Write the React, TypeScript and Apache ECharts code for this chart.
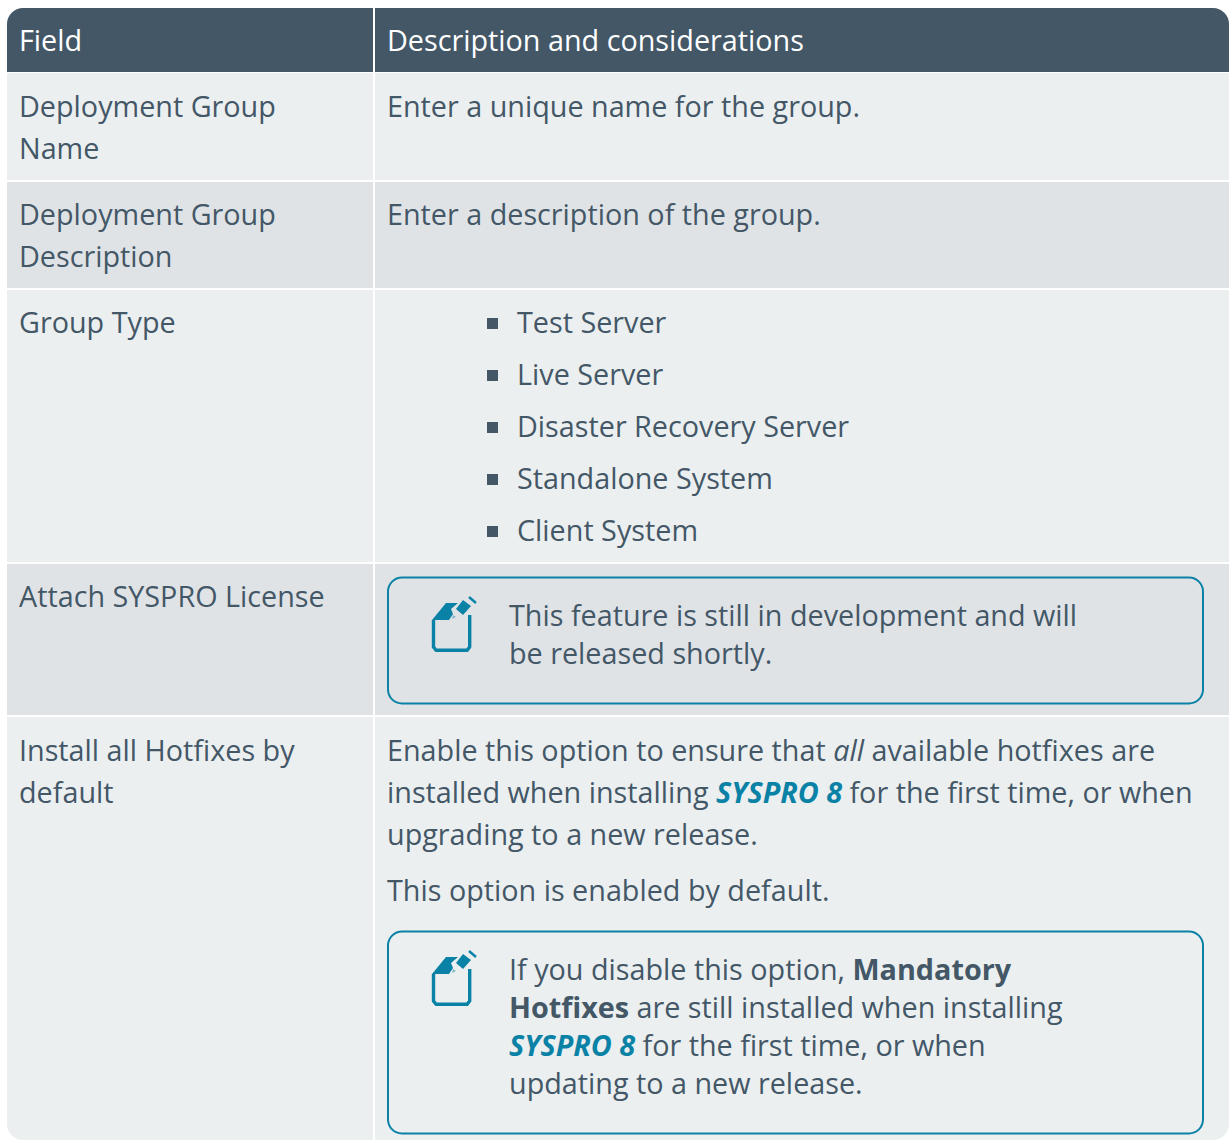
import React, { useEffect, useRef } from "react";
import * as echarts from "echarts";

const SLATE = "#435767";
const TEAL = "#0a82a6";
const headers = ["Field", "Description and considerations"];
const fieldLines = [
  ["Deployment Group", "Name"],
  ["Deployment Group", "Description"],
  ["Group Type"],
  ["Attach SYSPRO License"],
  ["Install all Hotfixes by", "default"],
];
const fieldY = [105, 213, 321, 595, 749];
const bulletItems = ["Test Server", "Live Server", "Disaster Recovery Server", "Standalone System", "Client System"];
const bulletY = [321, 373, 425, 477, 529];
const plainDesc: [string, number][] = [
  ["Enter a unique name for the group.", 105],
  ["Enter a description of the group.", 213],
  ["{n|Enable this option to ensure that }{i|all}{n| available hotfixes are}", 749],
  ["{n|installed when installing }{s|SYSPRO 8}{n| for the first time, or when}", 791],
  ["upgrading to a new release.", 833],
  ["This option is enabled by default.", 889],
];
const note1: [string, number][] = [
  ["This feature is still in development and will", 614],
  ["be released shortly.", 652],
];
const note2: [string, number][] = [
  ["{n|If you disable this option, }{b|Mandatory}", 968],
  ["{b|Hotfixes}{n| are still installed when installing}", 1006],
  ["{s|SYSPRO 8}{n| for the first time, or when}", 1044],
  ["updating to a new release.", 1082],
];
const rows = [
  { y: 73, h: 107, c: "#ebeff0" },
  { y: 182, h: 106, c: "#e0e3e6" },
  { y: 290, h: 272, c: "#ebeff0" },
  { y: 564, h: 151, c: "#e0e3e6" },
  { y: 717, h: 423, c: "#ebeff0" },
];

const FONT = '"Open Sans"';
const SIZE = 28.75;
const rich = (size: number) => ({
  n: { fontFamily: FONT, fontSize: size, fill: SLATE },
  i: { fontFamily: FONT, fontSize: size, fontStyle: "italic", fill: SLATE },
  b: { fontFamily: FONT, fontSize: size, fontWeight: 700, fill: SLATE },
  s: { fontFamily: FONT, fontSize: size, fontWeight: 700, fontStyle: "italic", fill: TEAL },
});

function txt(s: string, x: number, y: number, size: number, color = SLATE) {
  return {
    type: "text",
    x,
    y,
    style: {
      text: s,
      fontFamily: FONT,
      fontSize: size,
      fill: color,
      textAlign: "left",
      textVerticalAlign: "middle",
      rich: rich(size),
    },
  };
}

function icon(dy: number) {
  return {
    type: "group",
    x: 0,
    y: dy,
    children: [
      { type: "polyline", shape: { points: [[433.5, 620], [433.5, 647], [436, 650.3], [467, 650.3], [469.7, 647], [469.7, 615]] }, style: { fill: "none", stroke: TEAL, lineWidth: 3.4, lineJoin: "round" } },
      { type: "polygon", shape: { points: [[432, 620], [446, 603], [458, 603], [451, 609], [453, 614], [449, 620]] }, style: { fill: TEAL } },
      { type: "polygon", shape: { points: [[463, 600], [471, 606], [463, 615], [456, 609]] }, style: { fill: TEAL } },
      { type: "line", shape: { x1: 469, y1: 597, x2: 476, y2: 603 }, style: { stroke: TEAL, lineWidth: 2.4 } },
      { type: "polygon", shape: { points: [[453, 615], [456, 617], [452, 619]] }, style: { fill: "#7fb6c9" } },
    ],
  };
}

export default function App() {
  const ref = useRef<HTMLDivElement>(null);
  useEffect(() => {
    if (!ref.current) return;
    const chart = echarts.init(ref.current, undefined, { renderer: "svg" });
    const els: any[] = [];
    els.push({ type: "rect", shape: { x: 7, y: 8, width: 366, height: 64, r: [16, 0, 0, 0] }, style: { fill: SLATE } });
    els.push({ type: "rect", shape: { x: 375, y: 8, width: 854, height: 64, r: [0, 16, 0, 0] }, style: { fill: SLATE } });
    rows.forEach((r, i) => {
      const last = i === rows.length - 1;
      els.push({ type: "rect", shape: { x: 7, y: r.y, width: 366, height: r.h, r: last ? [0, 0, 0, 16] : 0 }, style: { fill: r.c } });
      els.push({ type: "rect", shape: { x: 375, y: r.y, width: 854, height: r.h, r: last ? [0, 0, 16, 0] : 0 }, style: { fill: r.c } });
    });
    els.push(txt(headers[0], 19, 39, SIZE, "#ffffff"));
    els.push(txt(headers[1], 387, 39, SIZE, "#ffffff"));
    fieldLines.forEach((lines, i) => lines.forEach((l, j) => els.push(txt(l, 19, fieldY[i] + j * 42, SIZE))));
    plainDesc.forEach(([s, y]) => els.push(txt(s, 387, y, SIZE)));
    bulletItems.forEach((s, i) => {
      els.push({ type: "rect", shape: { x: 487, y: bulletY[i] - 3, width: 11, height: 11 }, style: { fill: SLATE } });
      els.push(txt(s, 517, bulletY[i], SIZE));
    });
    els.push({ type: "rect", shape: { x: 388, y: 577.5, width: 815, height: 126, r: 14 }, style: { fill: "none", stroke: TEAL, lineWidth: 2 } });
    els.push({ type: "rect", shape: { x: 388, y: 931.5, width: 815, height: 202, r: 14 }, style: { fill: "none", stroke: TEAL, lineWidth: 2 } });
    els.push(icon(0));
    els.push(icon(354));
    note1.forEach(([s, y]) => els.push(txt(s, 509, y, SIZE)));
    note2.forEach(([s, y]) => els.push(txt(s, 509, y, SIZE)));
    chart.setOption({ animation: false, graphic: { elements: els } });
    return () => chart.dispose();
  }, []);
  return <div ref={ref} style={{ position: "fixed", left: 0, top: 0, width: 1229, height: 1140, background: "#fff" }} />;
}
